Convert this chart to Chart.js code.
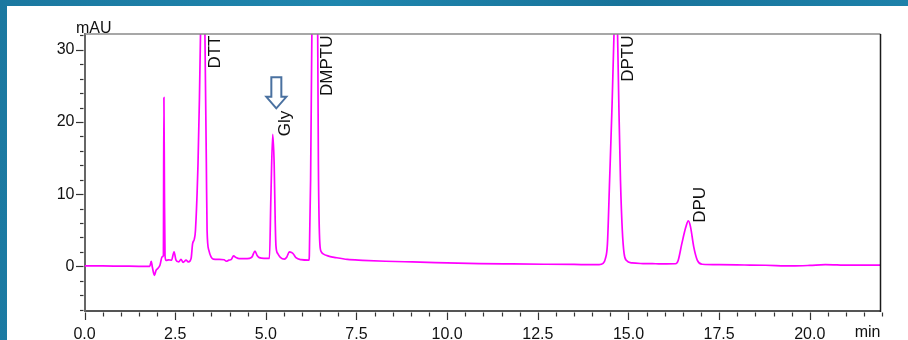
<!DOCTYPE html>
<html>
<head>
<meta charset="utf-8">
<script src="https://cdn.jsdelivr.net/npm/chart.js@4.4.1/dist/chart.umd.min.js"></script>
<style>
  html, body { margin: 0; padding: 0; }
  body {
    width: 908px; height: 340px; overflow: hidden; position: relative;
    background: linear-gradient(100deg, #1b78a0 0%, #1f86ae 35%, #18739a 65%, #1e84ad 100%);
  }
  #panel { position: absolute; left: 7px; top: 6px; width: 901px; height: 334px; background: #fff; }
  #chrom { position: absolute; left: 0; top: 0; }
</style>
</head>
<body>
<div id="panel"></div>
<canvas id="chrom" width="908" height="340"></canvas>
<script>
// retention time (min) and detector signal (mAU)
const times = [
  0, 0.5, 1.0, 1.5, 1.80, 1.84, 1.87, 1.93, 1.97, 2.02, 2.08, 2.14, 2.175, 2.19, 2.205, 2.22, 2.25,
  2.32, 2.40, 2.47, 2.52, 2.60, 2.66, 2.72, 2.80, 2.87, 2.94, 2.98, 3.03, 3.06, 3.13, 3.17, 3.20,
  3.26, 3.32, 3.36, 3.38, 3.43, 3.49, 3.55, 3.70, 3.85, 3.91, 3.98, 4.05, 4.11, 4.18, 4.27, 4.40,
  4.55, 4.62, 4.70, 4.76, 4.82, 4.95, 5.10, 5.14, 5.19, 5.23, 5.26, 5.28, 5.33, 5.40, 5.51, 5.58,
  5.65, 5.71, 5.76, 5.83, 5.97, 6.19, 6.20, 6.235, 6.27, 6.35, 6.43, 6.45, 6.49, 6.53, 6.57, 6.75,
  6.93, 7.25, 7.67, 8.30, 9.04, 10.0, 10.88, 11.8, 12.72, 13.5, 14.19, 14.30, 14.36, 14.42, 14.48,
  14.54, 14.60, 14.65, 14.70, 14.74, 14.78, 14.83, 14.88, 14.94, 15.10, 15.40, 15.75, 16.05, 16.30,
  16.37, 16.47, 16.58, 16.65, 16.71, 16.80, 16.90, 17.03, 17.50, 18.20, 18.78, 19.51, 20.00, 20.43,
  21.07, 21.50, 21.95
];
const signal = [
  0.05, 0.05, 0.02, 0.0, -0.02, 0.7, -0.1, -1.25, -0.6, -0.3, 0.15, 1.3, 1.5, 23.4, 10, 1.5, 0.8,
  0.9, 0.85, 2.0, 0.9, 0.6, 0.95, 0.55, 0.85, 0.6, 1.1, 3.1, 3.8, 5.0, 14.2, 23.4, 32.5,
  55, 32.5, 14.2, 5.0, 2.2, 1.3, 1.0, 0.95, 0.9, 0.7, 0.85, 0.95, 1.45, 1.2, 1.05, 1.05,
  1.1, 1.3, 2.1, 1.5, 1.2, 1.1, 1.1, 9.6, 18.3, 14.2, 6.0, 2.8, 1.75, 1.25, 1.0, 1.3,
  2.0, 1.9, 1.7, 1.2, 0.92, 0.85, 1.5, 12, 32.5, 60, 32.5, 14, 3.1, 2.0, 1.75, 1.38,
  1.2, 0.95, 0.83, 0.7, 0.6, 0.48, 0.37, 0.32, 0.28, 0.25, 0.23, 0.4, 1.0, 3.1, 11.9,
  21.1, 32, 45, 32, 21, 11.9, 5.0, 1.75, 0.83, 0.46, 0.38, 0.35, 0.33, 0.35,
  0.8, 3.1, 5.4, 6.3, 5.5, 2.7, 0.83, 0.28, 0.22, 0.18, 0.14, 0.05, 0.12, 0.23,
  0.15, 0.15, 0.15
];

const peakNames = ['DTT', 'Gly', 'DMPTU', 'DPTU', 'DPU'];
const peakTimes = [3.26, 5.19, 6.35, 14.65, 16.65];
const peakHeights = [55, 18.3, 60, 45, 6.3];

const arrowTime = 5.29;   // marker over Gly
const arrowValue = 21.9;

const xTickLabels = ['0.0', '2.5', '5.0', '7.5', '10.0', '12.5', '15.0', '17.5', '20.0'];
const yTickLabels = ['0', '10', '20', '30'];

const FONT = '"Liberation Sans", Arial, sans-serif';

const decorations = {
  id: 'decorations',
  afterDraw(chart) {
    const { ctx, chartArea: a, scales: { x, y } } = chart;
    ctx.save();

    // top and right frame
    ctx.lineWidth = 1.5;
    ctx.strokeStyle = '#8a8a8a';
    ctx.beginPath(); ctx.moveTo(a.left, a.top); ctx.lineTo(a.right, a.top); ctx.stroke();
    ctx.strokeStyle = '#1a1a1a';
    ctx.beginPath(); ctx.moveTo(a.right, a.top); ctx.lineTo(a.right, a.bottom + 1); ctx.stroke();

    // tick marks, major + minor
    ctx.strokeStyle = '#333';
    ctx.lineWidth = 1.2;
    for (let v = 0; v <= 22.001; v += 0.5) {
      const px = Math.round(x.getPixelForValue(v)) + 0.5;
      const major = Math.abs(v / 2.5 - Math.round(v / 2.5)) < 1e-6;
      ctx.beginPath();
      ctx.moveTo(px, a.bottom + 1.5);
      ctx.lineTo(px, a.bottom + (major ? 9 : 5.5));
      ctx.stroke();
    }
    for (let v = -6; v <= 32; v += 2) {
      const py = Math.round(y.getPixelForValue(v)) + 0.5;
      const major = v % 10 === 0;
      ctx.beginPath();
      ctx.moveTo(a.left - 1, py);
      ctx.lineTo(a.left - (major ? 8.5 : 4.5), py);
      ctx.stroke();
    }

    // axis units
    ctx.fillStyle = '#111';
    ctx.font = '16px ' + FONT;
    ctx.textBaseline = 'alphabetic';
    ctx.textAlign = 'left';
    ctx.fillText('mAU', a.left - 8.5, a.top - 1.5);
    ctx.textAlign = 'right';
    ctx.fillText('min', a.right, 337);

    // peak names, rotated
    ctx.font = '17px ' + FONT;
    ctx.textAlign = 'left';
    peakNames.forEach((name, i) => {
      const w = ctx.measureText(name).width;
      const px = x.getPixelForValue(peakTimes[i]) + 17;
      const py = Math.max(y.getPixelForValue(peakHeights[i]) + 2, a.top + 1.5 + w);
      ctx.save();
      ctx.translate(px, py);
      ctx.rotate(-Math.PI / 2);
      ctx.fillText(name, 0, 0);
      ctx.restore();
    });

    // hollow down arrow
    const tx = x.getPixelForValue(arrowTime);
    const ty = y.getPixelForValue(arrowValue);
    ctx.beginPath();
    ctx.moveTo(tx, ty);
    ctx.lineTo(tx - 10, ty - 11.5);
    ctx.lineTo(tx - 5, ty - 11.5);
    ctx.lineTo(tx - 5, ty - 31);
    ctx.lineTo(tx + 5, ty - 31);
    ctx.lineTo(tx + 5, ty - 11.5);
    ctx.lineTo(tx + 10, ty - 11.5);
    ctx.closePath();
    ctx.fillStyle = '#fff';
    ctx.fill();
    ctx.lineWidth = 2;
    ctx.strokeStyle = '#4a71a0';
    ctx.stroke();

    ctx.restore();
  }
};

new Chart(document.getElementById('chrom'), {
  type: 'line',
  data: {
    datasets: [{
      data: times.map((t, i) => ({ x: t, y: signal[i] })),
      borderColor: '#ff00ff',
      borderWidth: 1.7,
      pointRadius: 0,
      cubicInterpolationMode: 'monotone',
      fill: false
    }]
  },
  options: {
    responsive: false,
    animation: false,
    events: [],
    layout: { padding: { top: 34, right: 27.5, left: 0, bottom: 0 } },
    plugins: { legend: { display: false }, tooltip: { enabled: false } },
    scales: {
      x: {
        type: 'linear',
        min: 0,
        max: 21.95,
        grid: { display: false, drawTicks: false },
        border: { display: true, color: '#555', width: 2 },
        afterFit: (s) => { s.height = 29; },
        afterBuildTicks: (s) => { s.ticks = xTickLabels.map(l => ({ value: Number(l) })); },
        ticks: {
          autoSkip: false,
          maxRotation: 0,
          padding: 14,
          color: '#111',
          font: { family: FONT, size: 16 },
          callback: (v) => Number(v).toFixed(1)
        }
      },
      y: {
        min: -6.2,
        max: 32.2,
        grid: { display: false, drawTicks: false },
        border: { display: true, color: '#666', width: 2 },
        afterFit: (s) => { s.width = 84.5; },
        afterBuildTicks: (s) => { s.ticks = yTickLabels.map(l => ({ value: Number(l) })); },
        ticks: {
          padding: 10,
          color: '#111',
          font: { family: FONT, size: 16 },
          callback: (v) => String(v)
        }
      }
    }
  },
  plugins: [decorations]
});
</script>
</body>
</html>
